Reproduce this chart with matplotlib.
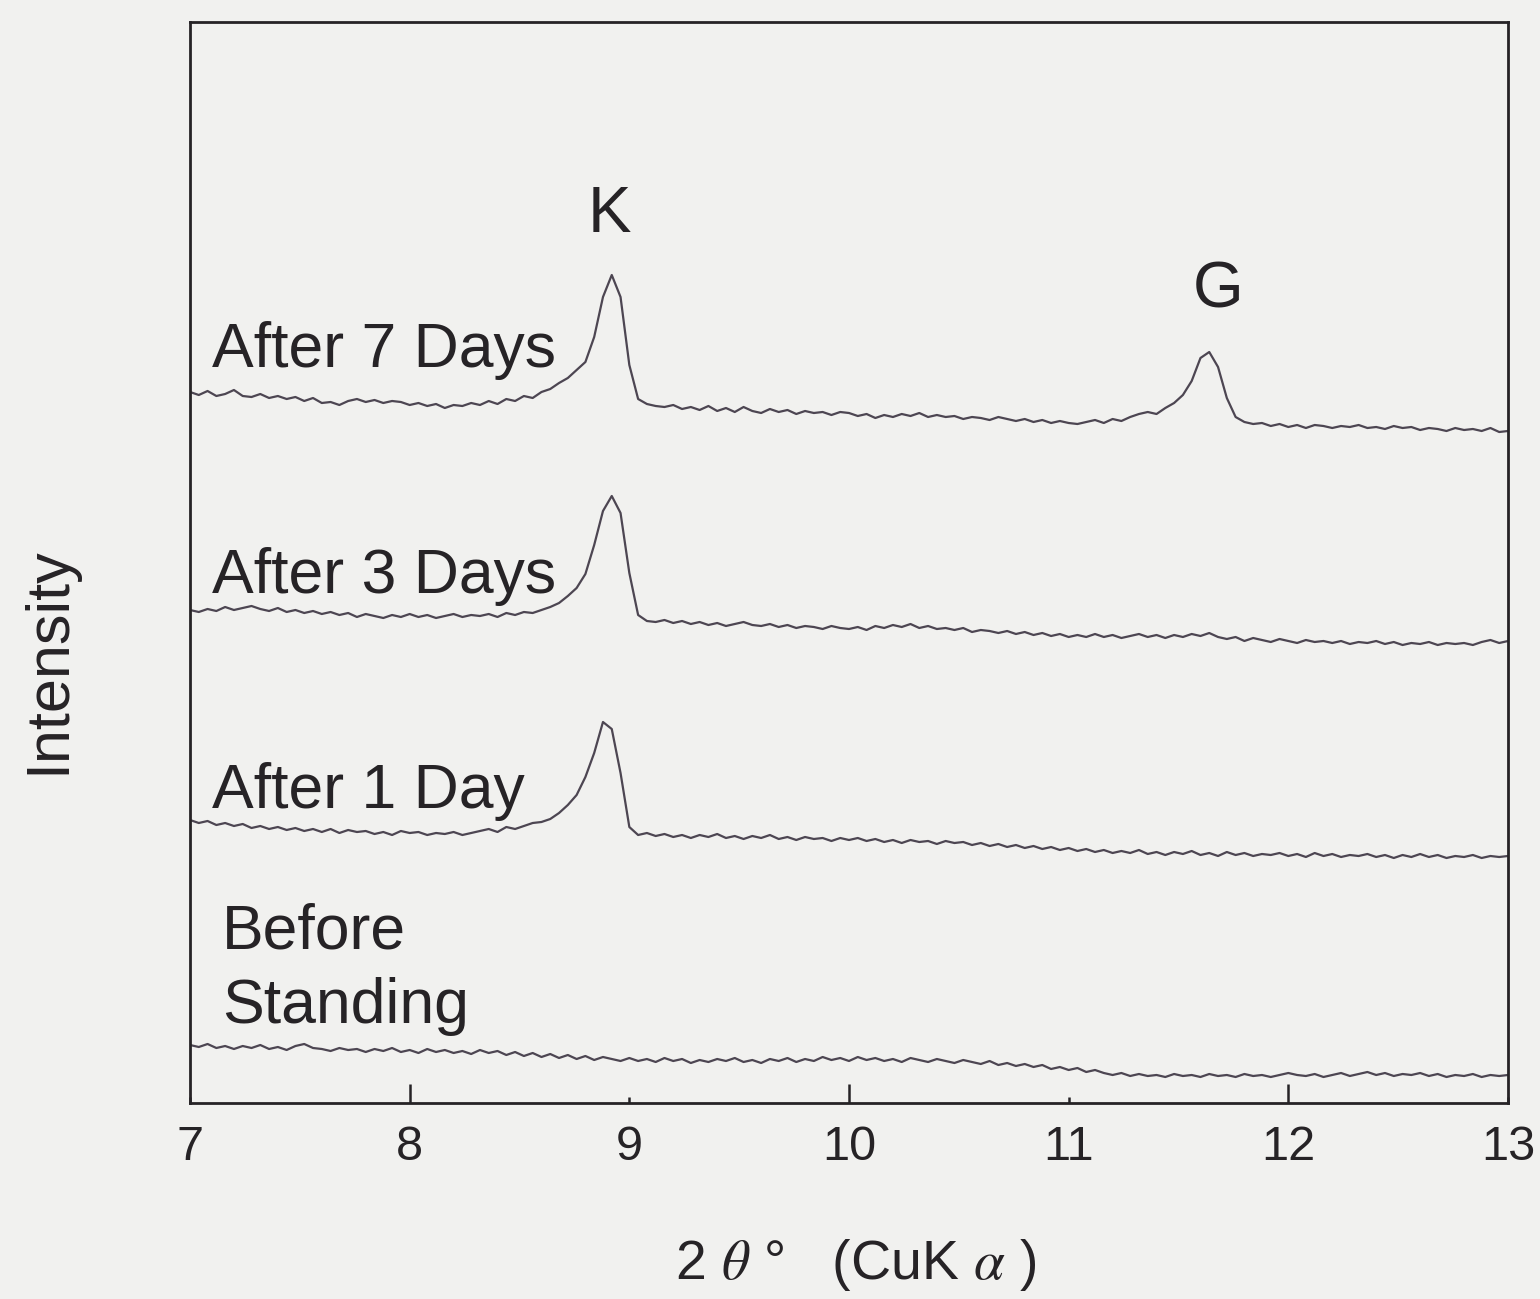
import numpy as np
import matplotlib
matplotlib.use("Agg")
import matplotlib.pyplot as plt
from matplotlib.ticker import FixedLocator, FormatStrFormatter

plt.rcParams['font.family'] = ['Liberation Sans', 'DejaVu Sans']
plt.rcParams['mathtext.fontset'] = 'stix'

# 2-theta scan grid (degrees, CuK-alpha), 0.04 deg step
two_theta = np.linspace(7.0, 13.0, 151)

# Stacked diffraction patterns (arbitrary intensity units, offsets included)
after_7_days = [
    711, 708, 712, 707, 709, 713, 707, 706, 709, 705,
    707, 704, 706, 702, 705, 700, 701, 698, 702, 704,
    701, 703, 700, 702, 701, 698, 700, 697, 699, 695,
    698, 697, 700, 698, 702, 699, 704, 702, 707, 705,
    711, 714, 720, 725, 733, 741, 766, 806, 828, 806,
    738, 704, 699,
    697, 696, 698, 694, 696, 693, 697, 692, 695, 691,
    696, 692, 690, 694, 691, 693, 689, 692, 690, 691,
    688, 691,
    690, 687, 689, 685, 688, 686, 689, 687, 690, 686,
    688, 686, 687, 684, 686, 685, 683, 686, 684, 682,
    684, 681, 683, 680, 682, 680, 679, 681, 683, 680,
    684, 682, 686, 689,
    691, 689, 695, 700, 708, 722, 745, 751, 736, 705, 686, 681,
    679, 680, 677, 679, 676, 678, 675, 678, 677, 675,
    677, 676, 678, 675, 676, 674, 677, 675, 676, 673,
    675, 674, 672, 675, 673, 674, 672, 675, 671, 672,
]

after_3_days = [
    493, 491, 494, 492, 496, 493, 495, 497, 494, 492,
    495, 491, 493, 490, 492, 489, 491, 488, 490, 486,
    489, 487, 485, 488, 486, 489, 486, 488, 485, 487,
    489, 486, 488, 487, 489, 486, 490, 488, 491, 490,
    493, 496, 500, 507, 515, 529, 558, 592, 607, 590,
    530, 488, 482,
    481, 483, 480, 482, 479, 481, 478, 480, 477, 479,
    481, 478, 477, 479, 476, 478, 475, 477, 476, 474,
    477, 475,
    474, 476, 473, 477, 475, 478, 476, 479, 475, 477,
    474, 475, 473, 475, 471, 473, 472, 470, 472, 469,
    471, 468, 470, 467, 469, 466, 468, 466, 469, 466,
    468, 465, 467, 469, 466, 468, 465, 468, 466, 469,
    467, 470, 466, 464, 466, 462, 465, 463, 461, 464,
    462, 460, 463, 461, 462, 460, 462, 459, 461, 460,
    462, 459, 461, 458, 460, 459, 461, 458, 460, 459,
    460, 458, 461, 463, 460, 462,
]

after_1_day = [
    283, 280, 282, 278, 280, 277, 279, 275, 277, 274,
    276, 273, 275, 272, 274, 271, 274, 270, 273, 271,
    272, 269, 271, 268, 272, 270, 271, 268, 270, 269,
    271, 268, 270, 272, 274, 271, 276, 274, 277, 280,
    281, 284, 290, 298, 308, 326, 350, 381, 374, 330,
    276, 268, 270,
    267, 269, 266, 268, 265, 268, 266, 269, 265, 267,
    264, 267, 265, 268, 264, 266, 263, 266, 264, 265,
    262, 265,
    263, 265, 262, 264, 261, 263, 260, 263, 261, 262,
    259, 262, 260, 261, 258, 260, 257, 259, 256, 258,
    255, 257, 254, 256, 253, 255, 252, 254, 251, 253,
    250, 252, 250, 253, 249, 251, 248, 251, 249, 252,
    248, 250, 247, 251, 248, 250, 247, 249, 248, 250,
    247, 249, 246, 250, 247, 249, 246, 248, 247, 249,
    246, 248, 245, 248, 246, 249, 246, 248, 245, 247,
    246, 248, 245, 247, 246, 247,
]

before_standing = [
    58, 56, 59, 55, 57, 54, 57, 55, 58, 54,
    56, 53, 57, 59, 55, 54, 52, 55, 53, 54,
    51, 54, 52, 55, 51, 53, 50, 54, 51, 53,
    50, 52, 49, 53, 50, 52, 48, 51, 47, 50,
    46, 49, 45, 48, 44, 47, 43, 46, 44, 42,
    45, 42, 44, 41, 45, 42, 44, 40, 43, 41,
    44, 42, 45, 41, 43, 40, 44, 42, 45, 41,
    44, 42, 46, 43, 45, 42, 46, 43, 45, 42,
    44, 41, 45, 43, 41, 44, 42, 40, 43, 41,
    39, 42, 38, 40, 37, 39, 36, 38, 34, 36,
    33, 35, 31, 33, 30, 28, 30, 27, 29, 27,
    28, 26, 29, 27, 28, 26, 29, 27, 28, 26,
    29, 27, 28, 26, 28, 30, 28, 27, 29, 26,
    28, 30, 27, 29, 31, 28, 30, 27, 29, 28,
    30, 27, 29, 26, 28, 27, 29, 26, 28, 27, 28,
]

series = [after_7_days, after_3_days, after_1_day, before_standing]

x_major = [8, 10, 12]
x_minor = [7, 9, 11, 13]

bg = '#f1f1ef'
ink = '#262326'
trace_color = '#4d4652'

fig = plt.figure(figsize=(15.4, 12.99), dpi=100, facecolor=bg)
ax = fig.add_axes([190 / 1540, 1 - 1103 / 1299, 1318 / 1540, 1081 / 1299])
ax.set_facecolor(bg)

for ys in series:
    ax.plot(two_theta, ys, color=trace_color, lw=1.6)

ax.set_xlim(7, 13)
ax.set_ylim(0, 1081)
ax.set_yticks([])

ax.xaxis.set_major_locator(FixedLocator(x_major))
ax.xaxis.set_minor_locator(FixedLocator(x_minor))
ax.xaxis.set_major_formatter(FormatStrFormatter('%d'))
ax.xaxis.set_minor_formatter(FormatStrFormatter('%d'))
ax.tick_params(axis='x', which='major', direction='in', length=14, width=1.8,
               color=ink, labelsize=35, pad=16, labelcolor=ink)
ax.tick_params(axis='x', which='minor', direction='in', length=4, width=1.8,
               color=ink, labelsize=35, pad=16, labelcolor=ink)

for sp in ax.spines.values():
    sp.set_color(ink)
    sp.set_linewidth(2.0)

label_kw = dict(fontsize=45, color=ink, ha='left', va='baseline')
ax.text(7.10, 736, 'After 7 Days', **label_kw)
ax.text(7.10, 510, 'After 3 Days', **label_kw)
ax.text(7.10, 295, 'After 1 Day', **label_kw)
ax.text(7.145, 155, 'Before', **label_kw)
ax.text(7.145, 80, 'Standing', **label_kw)

ax.text(8.91, 888, 'K', fontsize=47, color=ink, ha='center', va='center')
ax.text(11.68, 813, 'G', fontsize=47, color=ink, ha='center', va='center')

fig.text(49 / 1540, 1 - 660 / 1299, 'Intensity', rotation=90, fontsize=44,
         color=ink, ha='center', va='center')
fig.text(856 / 1540, 1 - 1265 / 1299, '2 $\\theta$ °   (CuK $\\alpha$ )',
         fontsize=40, color=ink, ha='center', va='center')

fig.savefig('out.png', dpi=100, facecolor=bg)
